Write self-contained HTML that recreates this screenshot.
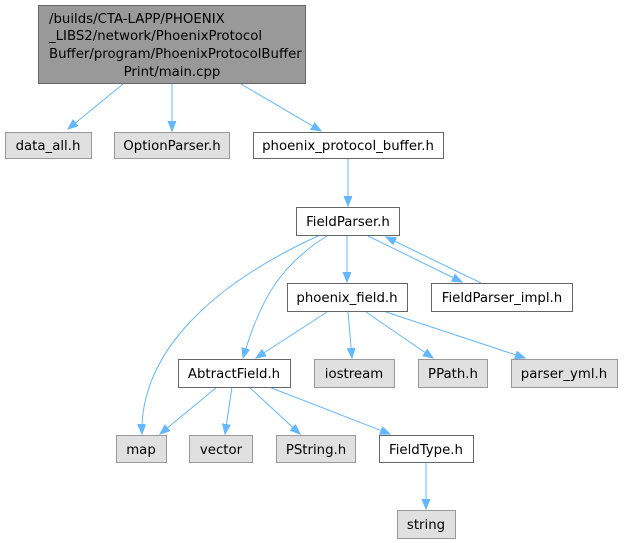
<!DOCTYPE html>
<html><head><meta charset="utf-8"><style>
html,body{margin:0;padding:0;background:#fff;width:624px;height:543px;overflow:hidden}
svg{display:block}
text{font-family:"DejaVu Sans","Liberation Sans",sans-serif;font-size:13.3px;fill:#000}
.g{fill:#e0e0e0;stroke:#999}
.w{fill:#fff;stroke:#666}
.e{fill:none;stroke:#63b8ff;stroke-width:1}
</style></head><body>
<svg width="624" height="543" viewBox="0 0 624 543">
<defs><marker id="a" markerUnits="userSpaceOnUse" markerWidth="12" markerHeight="10" refX="10" refY="4" orient="auto"><path d="M0,0 L10,4 L0,8 Z" fill="#63b8ff" stroke="#63b8ff"/></marker></defs>
<g>
<path class="e" marker-end="url(#a)" d="M123,84 L68,129"/>
<path class="e" marker-end="url(#a)" d="M172,84 L172,131"/>
<path class="e" marker-end="url(#a)" d="M241,84 L321,131"/>
<path class="e" marker-end="url(#a)" d="M348,158 L348,206"/>
<path class="e" marker-end="url(#a)" d="M318,236 C200,290 140,360 142,434"/>
<path class="e" marker-end="url(#a)" d="M327,236 C280,265 260,300 243,358"/>
<path class="e" marker-end="url(#a)" d="M347,236 L347,282"/>
<path class="e" marker-end="url(#a)" d="M368,236 L462,282"/>
<path class="e" marker-end="url(#a)" d="M481,283 L386,237"/>
<path class="e" marker-end="url(#a)" d="M327,312 L256,358"/>
<path class="e" marker-end="url(#a)" d="M348,312 L352,358"/>
<path class="e" marker-end="url(#a)" d="M366,312 L433,358"/>
<path class="e" marker-end="url(#a)" d="M386,312 L525,358"/>
<path class="e" marker-end="url(#a)" d="M217,387 L160,434"/>
<path class="e" marker-end="url(#a)" d="M232,387 L225,434"/>
<path class="e" marker-end="url(#a)" d="M249,387 L300,434"/>
<path class="e" marker-end="url(#a)" d="M269,387 L390,434"/>
<path class="e" marker-end="url(#a)" d="M426,463 L426,509"/>
</g>
<rect x="38.5" y="5.5" width="267" height="78" fill="#999" stroke="#666"/>
<text x="49" y="23">/builds/CTA-LAPP/PHOENIX</text>
<text x="49" y="40">_LIBS2/network/PhoenixProtocol</text>
<text x="49" y="58">Buffer/program/PhoenixProtocolBuffer</text>
<text x="172" y="76" text-anchor="middle">Print/main.cpp</text>
<rect class="g" x="5.5" y="132.5" width="86" height="26"/><text x="48" y="150" text-anchor="middle">data_all.h</text>
<rect class="g" x="114.5" y="132.5" width="115" height="26"/><text x="172" y="150" text-anchor="middle">OptionParser.h</text>
<rect class="w" x="253.5" y="132.5" width="190" height="26"/><text x="348" y="150" text-anchor="middle">phoenix_protocol_buffer.h</text>
<rect class="w" x="296.5" y="207.5" width="103" height="28"/><text x="348" y="226" text-anchor="middle">FieldParser.h</text>
<rect class="w" x="287.5" y="283.5" width="120" height="28"/><text x="347" y="302" text-anchor="middle">phoenix_field.h</text>
<rect class="w" x="431.5" y="283.5" width="141" height="28"/><text x="502" y="302" text-anchor="middle">FieldParser_impl.h</text>
<rect class="w" x="178.5" y="359.5" width="112" height="28"/><text x="234" y="378" text-anchor="middle">AbtractField.h</text>
<rect class="g" x="314.5" y="359.5" width="80" height="28"/><text x="354" y="378" text-anchor="middle">iostream</text>
<rect class="g" x="418.5" y="359.5" width="69" height="28"/><text x="453" y="378" text-anchor="middle">PPath.h</text>
<rect class="g" x="511.5" y="359.5" width="106" height="28"/><text x="564" y="378" text-anchor="middle">parser_yml.h</text>
<rect class="g" x="116.5" y="435.5" width="50" height="27"/><text x="141" y="454" text-anchor="middle">map</text>
<rect class="g" x="189.5" y="435.5" width="63" height="27"/><text x="221" y="454" text-anchor="middle">vector</text>
<rect class="g" x="276.5" y="435.5" width="79" height="27"/><text x="316" y="454" text-anchor="middle">PString.h</text>
<rect class="w" x="379.5" y="435.5" width="94" height="27"/><text x="426" y="454" text-anchor="middle">FieldType.h</text>
<rect class="g" x="397.5" y="510.5" width="58" height="28"/><text x="426" y="529" text-anchor="middle">string</text>
</svg>
</body></html>
